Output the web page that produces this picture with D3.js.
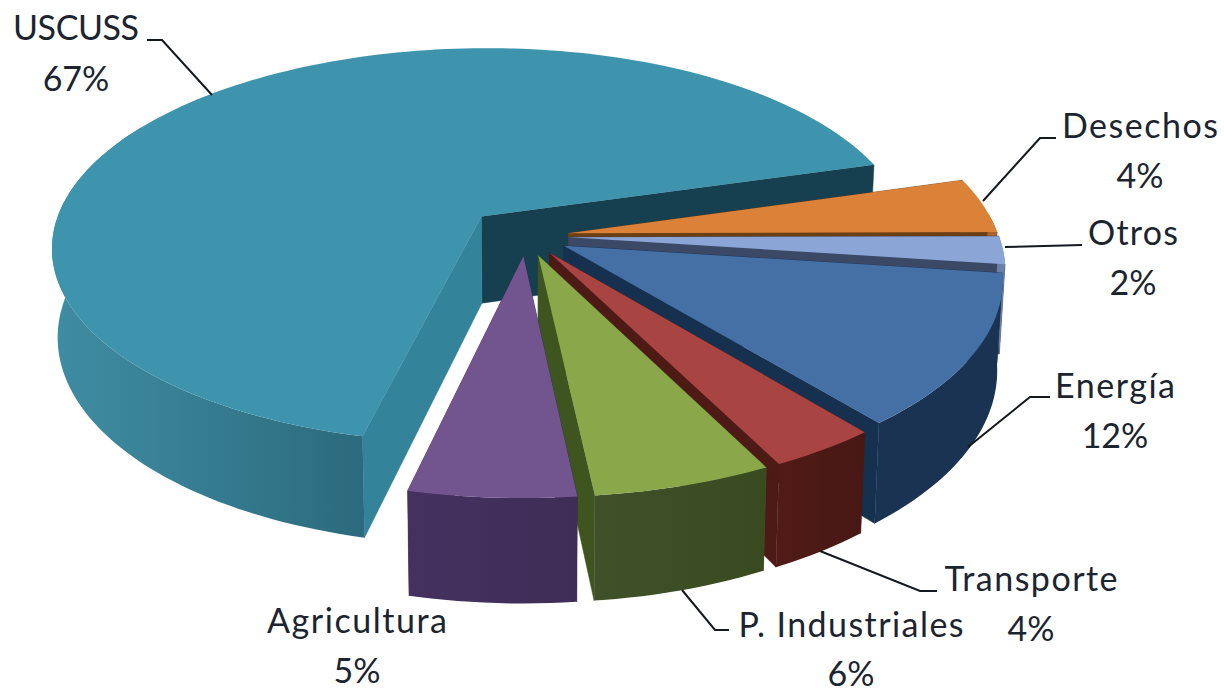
<!DOCTYPE html>
<html>
<head>
<meta charset="utf-8">
<script src="https://cdnjs.cloudflare.com/ajax/libs/d3/7.8.5/d3.min.js"></script>
<style>
	html, body { margin: 0; padding: 0; background: #fff; }
	svg { display: block; }
	text { font-family: Lato, "Open Sans", sans-serif; font-size: 34px; fill: #1c2430; text-anchor: middle; }
</style>
</head>
<body>
<div id="graph"></div>
<script>
// shares in percent (labels round them)
var categories = ["USCUSS", "Desechos", "Otros", "Energía", "Transporte", "P. Industriales", "Agricultura"];
var shares = [66.9, 4.4, 2.2, 12.0, 3.5, 5.7, 5.3];

var topColors = ["#3e93ad", "#dc8238", "#8ba6d6", "#4470a6", "#a84441", "#8aa84a", "#72548f"];
var wallLight = ["#3f8da3", "#a8622a", "#6a80a8", "#1a3352", "#511b17", "#40512a", "#443160"];
var wallDark = ["#2c6a7d", "#a8622a", "#6a80a8", "#1a3352", "#471814", "#3a4a20", "#3f2d57"];
var startFaces = ["#33839a", "#6b3f14", "#3b4866", "#16304f", "#4d1a16", "#3f5520", "#3a2a50"];
var endFaces = ["#163f50", "#6b3f14", "#3b4866", "#16304f", "#4d1a16", "#3f5520", "#3a2a50"];

var explode = [0.145, 0.1, 0.1, 0.1, 0.1, 0.1, 0.1];

// label text position, stretched name width and leader line, one entry per category
var labelLayout = [
	{x: 76, y: [40, 91], w: 126, leader: [[147, 40], [162, 40], [212, 95]]},
	{x: 1140, y: [138, 188], w: 156, leader: [[1056, 138], [1040, 138], [983, 201]]},
	{x: 1133, y: [245, 295], w: 90, leader: [[1082, 245], [1005, 247]]},
	{x: 1115, y: [398, 448], w: 120, leader: [[1050, 397], [1030, 397], [968, 447]]},
	{x: 1031, y: [591, 641], w: 173, leader: [[937, 591], [920, 591], [820, 551]]},
	{x: 851, y: [637, 686], w: 225, leader: [[729, 630], [715, 630], [682, 590]]},
	{x: 357, y: [633, 683], w: 180, leader: []}
];

var SVGwidth = 1224, SVGheight = 688,
	center = {x: 526, y: 236},
	radiusX = 430, radiusY = 199,
	persp = 0.15,
	depth = 88,
	shrink = 0.988,
	step = Math.PI / 120;

var svg = d3.select("#graph").append("svg")
	.attr("width", SVGwidth)
	.attr("height", SVGheight);

var defs = svg.append("defs");

var x = d3.scaleLinear().domain([-1, 1]).range([center.x - radiusX, center.x + radiusX]),
	y = d3.scaleLinear().domain([-1, 1]).range([center.y - radiusY, center.y + radiusY]);

var pie = d3.pie()
	.sort(null)
	.startAngle(-167 * Math.PI / 180)
	.endAngle((360 - 167) * Math.PI / 180);

var line = d3.line().curve(d3.curveLinear);
var fmt = d3.format(".0%");

// ground plane -> screen, lower = bottom face of the slab
function project(u, v, lower) {
	var p = 1 / (1 - persp * v),
		px = x(u * p),
		py = y(v * p);
	if (lower) {
		px = center.x + (px - center.x) * shrink;
		py = py + depth * p;
	}
	return [px, py];
}

function sliceGeom(d, i) {
	var mid = (d.startAngle + d.endAngle) / 2,
		e = explode[i],
		ou = e * Math.sin(mid),
		ov = -e * Math.cos(mid);
	var rim = d3.range(d.startAngle, d.endAngle, step).concat([d.endAngle]).map(function(a){
		return {a: a, u: ou + Math.sin(a), v: ov - Math.cos(a)};
	});
	return {ou: ou, ov: ov, rim: rim};
}

var slices = svg.append("g").attr("class", "slices")
	.selectAll("g")
	.data(pie(shares)).enter()
	.append("g")
	.attr("class", function(d, i){ return "slice s-" + i; });

slices.each(function(d, i){
	var g = d3.select(this), geom = sliceGeom(d, i), rim = geom.rim;
	var first = rim[0], last = rim[rim.length - 1];

	function face(pt, color) {
		var pts = [
			project(geom.ou, geom.ov, false),
			project(pt.u, pt.v, false),
			project(pt.u, pt.v, true),
			project(geom.ou, geom.ov, true)
		];
		g.append("path").attr("d", line(pts) + "Z").attr("fill", color).attr("stroke", color).attr("stroke-width", 0.5);
	}
	face(last, endFaces[i]);
	face(first, startFaces[i]);

	// outer wall, only the part turned to the viewer (a bit more on the left, the top face hides it)
	var visible = rim.filter(function(r){
		var c = Math.cos(r.a);
		return c < 0.1 || (Math.sin(r.a) < 0 && c < 0.5);
	});
	if (visible.length > 1) {
		var wall = visible.map(function(r){ return project(r.u, r.v, false); })
			.concat(visible.slice().reverse().map(function(r){ return project(r.u, r.v, true); }));
		var ext = d3.extent(wall, function(p){ return p[0]; });
		var grad = defs.append("linearGradient")
			.attr("id", "wall-" + i)
			.attr("gradientUnits", "userSpaceOnUse")
			.attr("x1", ext[0]).attr("x2", ext[1])
			.attr("y1", 0).attr("y2", 0);
		grad.append("stop").attr("offset", 0).attr("stop-color", wallLight[i]);
		grad.append("stop").attr("offset", 1).attr("stop-color", wallDark[i]);
		g.append("path").attr("d", line(wall) + "Z").attr("fill", "url(#wall-" + i + ")");
	}

	// top face
	var top = [project(geom.ou, geom.ov, false)].concat(rim.map(function(r){
		return project(r.u, r.v, false);
	}));
	g.append("path").attr("d", line(top) + "Z").attr("fill", topColors[i]);
});

var labels = svg.append("g").attr("class", "labels")
	.selectAll("g")
	.data(categories).enter()
	.append("g");

labels.each(function(name, i){
	var g = d3.select(this), l = labelLayout[i];
	if (l.leader.length) {
		g.append("path")
			.attr("d", line(l.leader))
			.attr("fill", "none")
			.attr("stroke", "#14181f")
			.attr("stroke-width", 2);
	}
	g.append("text").attr("x", l.x).attr("y", l.y[0])
		.attr("textLength", l.w).attr("lengthAdjust", "spacing")
		.text(name);
	g.append("text").attr("x", l.x).attr("y", l.y[1]).text(fmt(shares[i] / 100));
});
</script>
</body>
</html>
